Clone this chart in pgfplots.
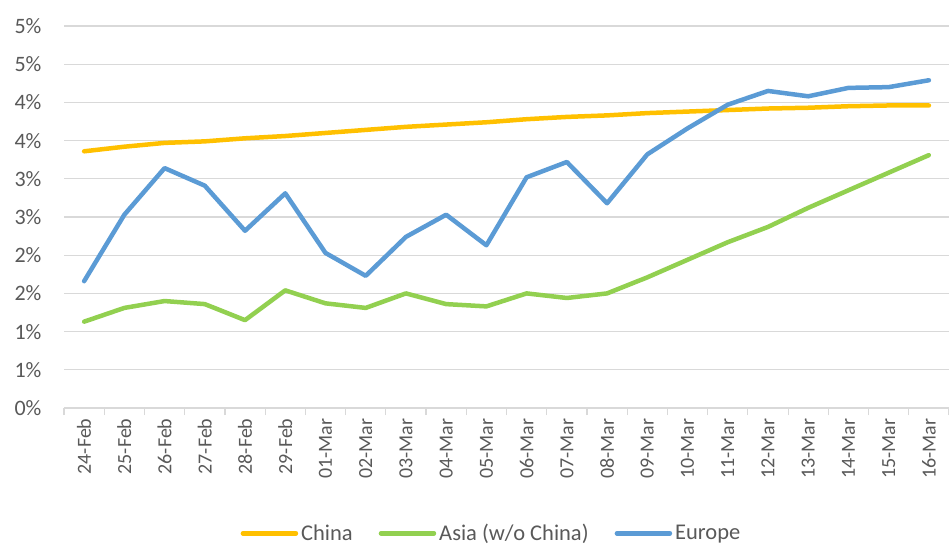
\documentclass[border=0pt]{standalone}
\usepackage{fontspec}
\setmainfont{Carlito}
\usepackage{pgfplots}
\usepackage{pgfplotstable}
\pgfplotsset{compat=1.18}
\definecolor{cchina}{HTML}{FFC000}
\definecolor{casia}{HTML}{92D050}
\definecolor{ceur}{HTML}{5B9BD5}
\definecolor{txt}{HTML}{595959}
\definecolor{cgrid}{HTML}{D9D9D9}
\pgfplotstableread{
x china asia europe
0  3.36 1.13 1.66
1  3.42 1.31 2.53
2  3.47 1.40 3.14
3  3.49 1.36 2.91
4  3.53 1.15 2.32
5  3.56 1.54 2.81
6  3.60 1.37 2.03
7  3.64 1.31 1.73
8  3.68 1.50 2.24
9  3.71 1.36 2.53
10 3.74 1.33 2.13
11 3.78 1.50 3.02
12 3.81 1.44 3.22
13 3.83 1.50 2.68
14 3.86 1.71 3.32
15 3.88 1.94 3.66
16 3.90 2.17 3.97
17 3.92 2.37 4.15
18 3.93 2.62 4.08
19 3.95 2.85 4.19
20 3.96 3.08 4.20
21 3.96 3.31 4.29
}\data
\begin{document}
\begin{tikzpicture}
\useasboundingbox (0,0) rectangle (949pt,547pt);
\begin{axis}[
  at={(64pt,139pt)}, anchor=south west,
  scale only axis, width=885pt, height=382pt,
  xmin=-0.5, xmax=21.5, ymin=0, ymax=5,
  font=\fontsize{20}{24}\selectfont,
  axis line style={draw=none},
  xtick={0,...,21},
  minor xtick={-0.5,0.5,...,21.5},
  xtick pos=lower,
  minor tick length=7pt, major tick length=0pt, tick align=outside,
  minor x tick style={draw=cgrid, line width=1.2pt},
  xticklabels={24-Feb,25-Feb,26-Feb,27-Feb,28-Feb,29-Feb,01-Mar,02-Mar,03-Mar,04-Mar,05-Mar,06-Mar,07-Mar,08-Mar,09-Mar,10-Mar,11-Mar,12-Mar,13-Mar,14-Mar,15-Mar,16-Mar},
  x tick label style={rotate=90, anchor=east, text=txt, xshift=-7pt},
  major x tick style={draw=none},
  ytick={0,0.5,...,5},
  yticklabels={0\%,1\%,1\%,2\%,2\%,3\%,3\%,4\%,4\%,5\%,5\%},
  y tick label style={text=txt, font=\fontsize{22}{26}\selectfont, xshift=-19pt},
  major y tick style={draw=none},
  ymajorgrids, grid style={draw=cgrid, line width=1.2pt},
  legend columns=3,
  legend style={at={(0.4836,-0.328)}, anchor=center, draw=none, fill=none,
    font=\fontsize{22.5}{26}\selectfont, text=txt,
    nodes={inner sep=3pt},
    /tikz/every even column/.append style={column sep=23pt}},
  legend image code/.code={\draw[#1, line width=4.5pt, line cap=round] (0pt,0pt) -- (53pt,0pt);},
  every axis plot/.append style={line width=4.5pt, line join=round, line cap=round, mark=none},
  clip=false,
]
\addplot[cchina] table[x=x,y=china]{\data};
\addlegendentry{China}
\addplot[casia] table[x=x,y=asia]{\data};
\addlegendentry{Asia (w/o China)}
\addplot[ceur] table[x=x,y=europe]{\data};
\addlegendentry{Europe}
\draw[cgrid, line width=1.2pt] (axis cs:-0.5,0) -- (axis cs:21.5,0);
\end{axis}
\end{tikzpicture}
\end{document}
